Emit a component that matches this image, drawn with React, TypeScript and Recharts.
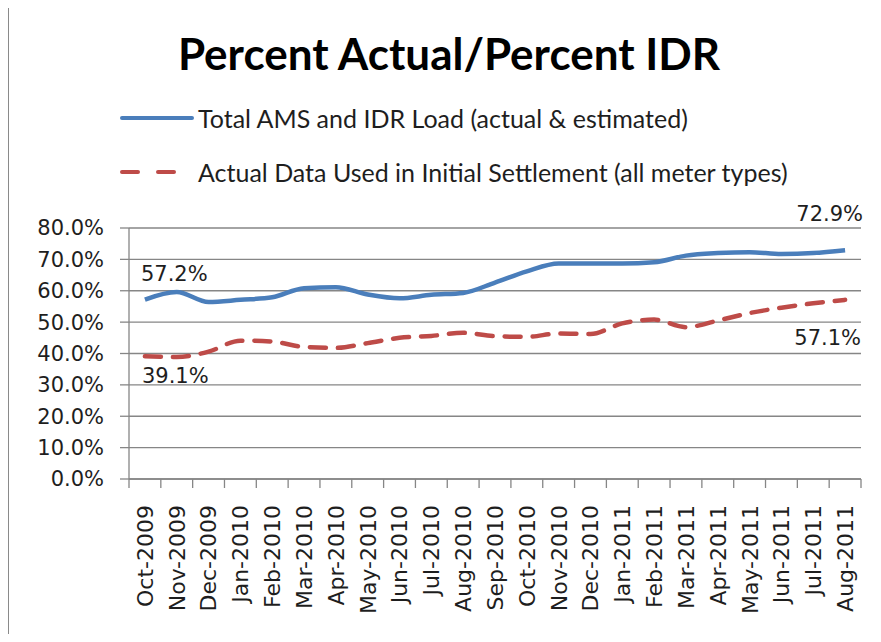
import { CartesianGrid, LabelList, Legend, Line, LineChart, XAxis, YAxis } from "recharts";

const months = [
  "Oct-2009", "Nov-2009", "Dec-2009",
  "Jan-2010", "Feb-2010", "Mar-2010", "Apr-2010", "May-2010", "Jun-2010",
  "Jul-2010", "Aug-2010", "Sep-2010", "Oct-2010", "Nov-2010", "Dec-2010",
  "Jan-2011", "Feb-2011", "Mar-2011", "Apr-2011", "May-2011", "Jun-2011",
  "Jul-2011", "Aug-2011",
];

// Total AMS and IDR Load (actual & estimated), percent
const totalLoad = [
  57.2, 59.6, 56.4, 57.1, 57.9, 60.8, 61.1, 58.8, 57.6,
  58.7, 59.3, 62.6, 66.2, 68.7, 68.7, 68.7, 69.1, 71.2, 72.0, 72.3, 71.7,
  72.0, 72.9,
];

// Actual Data Used in Initial Settlement (all meter types), percent
const actualData = [
  39.1, 38.9, 40.6, 44.1, 43.8, 42.1, 41.8, 43.3, 45.0,
  45.6, 46.6, 45.5, 45.3, 46.4, 46.2, 49.6, 50.8, 48.4, 50.5, 52.9, 54.6,
  56.0, 57.1,
];

const yTicks = [0, 10, 20, 30, 40, 50, 60, 70, 80];

const BLUE = "#4a7ebb";
const RED = "#be4b48";
const GRID = "#868686";
const TEXT = "#1e1e1e";
const TICK_FONT = "'DejaVu Sans', sans-serif";

const chartData = months.map((m, i) => ({
  idx: i,
  month: m,
  total: totalLoad[i],
  actual: actualData[i],
}));

const last = months.length - 1;
const boundaryTicks = [...months.map((_, i) => i - 0.5), last + 0.5];
const labelTicks = months.map((_, i) => i);

type Placement = { dx: number; dy: number; anchor: "start" | "end" };

const makeLabel = (placements: Record<number, Placement>) => (props: any) => {
  const { x, y, value, index } = props;
  const p = placements[index];
  if (!p) return null;
  return (
    <text
      x={Number(x) + p.dx}
      y={Number(y) + p.dy}
      textAnchor={p.anchor}
      fontFamily={TICK_FONT}
      fontSize={21}
      fill={TEXT}
    >
      {Number(value).toFixed(1)}%
    </text>
  );
};

const totalLabel = makeLabel({
  0: { dx: -4, dy: -19, anchor: "start" },
  [last]: { dx: 18, dy: -29, anchor: "end" },
});

const actualLabel = makeLabel({
  0: { dx: -3, dy: 27, anchor: "start" },
  [last]: { dx: 16, dy: 45, anchor: "end" },
});

const MonthTick = (props: any) => {
  const { x, y, payload } = props;
  return (
    <text
      transform={`translate(${x},${y + 8}) rotate(-90)`}
      textAnchor="end"
      dy="0.36em"
      fontFamily={TICK_FONT}
      fontSize={22}
      fill={TEXT}
    >
      {months[payload.value]}
    </text>
  );
};

const LegendBox = () => (
  <div style={{ fontFamily: "Lato, sans-serif", fontSize: 25, color: TEXT }}>
    <div style={{ display: "flex", alignItems: "center", height: 30 }}>
      <svg width={78} height={10}>
        <line x1={2} y1={5} x2={72} y2={5} stroke={BLUE} strokeWidth={4} strokeLinecap="round" />
      </svg>
      <span>Total AMS and IDR Load (actual &amp; estimated)</span>
    </div>
    <div style={{ display: "flex", alignItems: "center", height: 30, marginTop: 24 }}>
      <svg width={78} height={10}>
        <line
          x1={2}
          y1={5}
          x2={58}
          y2={5}
          stroke={RED}
          strokeWidth={4}
          strokeLinecap="round"
          strokeDasharray="16 20"
        />
      </svg>
      <span>Actual Data Used in Initial Settlement (all meter types)</span>
    </div>
  </div>
);

export default function App() {
  return (
    <div
      style={{
        position: "relative",
        width: 881,
        height: 642,
        margin: -8,
        background: "#fff",
        overflow: "hidden",
      }}
    >
      <div
        style={{
          position: "absolute",
          left: 7,
          top: 6,
          right: -10,
          bottom: -10,
          borderTop: "2px solid #8a8a8a",
          borderLeft: "2px solid #8a8a8a",
        }}
      />
      <div
        style={{
          position: "absolute",
          left: 0,
          width: 898,
          top: 27,
          textAlign: "center",
          fontFamily: "Lato, sans-serif",
          fontWeight: 700,
          fontSize: 44,
          color: "#000",
          zIndex: 1,
        }}
      >
        Percent Actual/Percent IDR
      </div>
      <LineChart
        width={881}
        height={642}
        data={chartData}
        margin={{ top: 228, right: 20, bottom: 0, left: 0 }}
      >
        <CartesianGrid vertical={false} stroke={GRID} strokeWidth={1.3} />
        <XAxis
          xAxisId={0}
          type="number"
          dataKey="idx"
          domain={[-0.5, last + 0.5]}
          ticks={boundaryTicks}
          interval={0}
          tickFormatter={() => ""}
          tickSize={9}
          height={10}
          stroke={GRID}
          strokeWidth={1.3}
          allowDataOverflow
        />
        <XAxis
          xAxisId={1}
          type="number"
          dataKey="idx"
          domain={[-0.5, last + 0.5]}
          ticks={labelTicks}
          interval={0}
          tick={<MonthTick />}
          tickLine={false}
          axisLine={false}
          height={153}
          allowDataOverflow
        />
        <YAxis
          domain={[0, 80]}
          ticks={yTicks}
          interval={0}
          width={129}
          tickSize={9}
          tickMargin={16}
          stroke={GRID}
          strokeWidth={1.3}
          tickFormatter={(v: number) => `${v.toFixed(1)}%`}
          tick={{ fontFamily: TICK_FONT, fontSize: 21, fill: TEXT }}
        />
        <Legend
          layout="vertical"
          align="center"
          verticalAlign="middle"
          wrapperStyle={{ top: 103, left: 120, width: 740 }}
          content={<LegendBox />}
        />
        <Line
          xAxisId={1}
          type="monotone"
          dataKey="total"
          stroke={BLUE}
          strokeWidth={4.5}
          dot={false}
          isAnimationActive={false}
        >
          <LabelList dataKey="total" content={totalLabel} />
        </Line>
        <Line
          xAxisId={1}
          type="monotone"
          dataKey="actual"
          stroke={RED}
          strokeWidth={4.5}
          strokeDasharray="16 12"
          strokeLinecap="round"
          dot={false}
          isAnimationActive={false}
        >
          <LabelList dataKey="actual" content={actualLabel} />
        </Line>
      </LineChart>
    </div>
  );
}
